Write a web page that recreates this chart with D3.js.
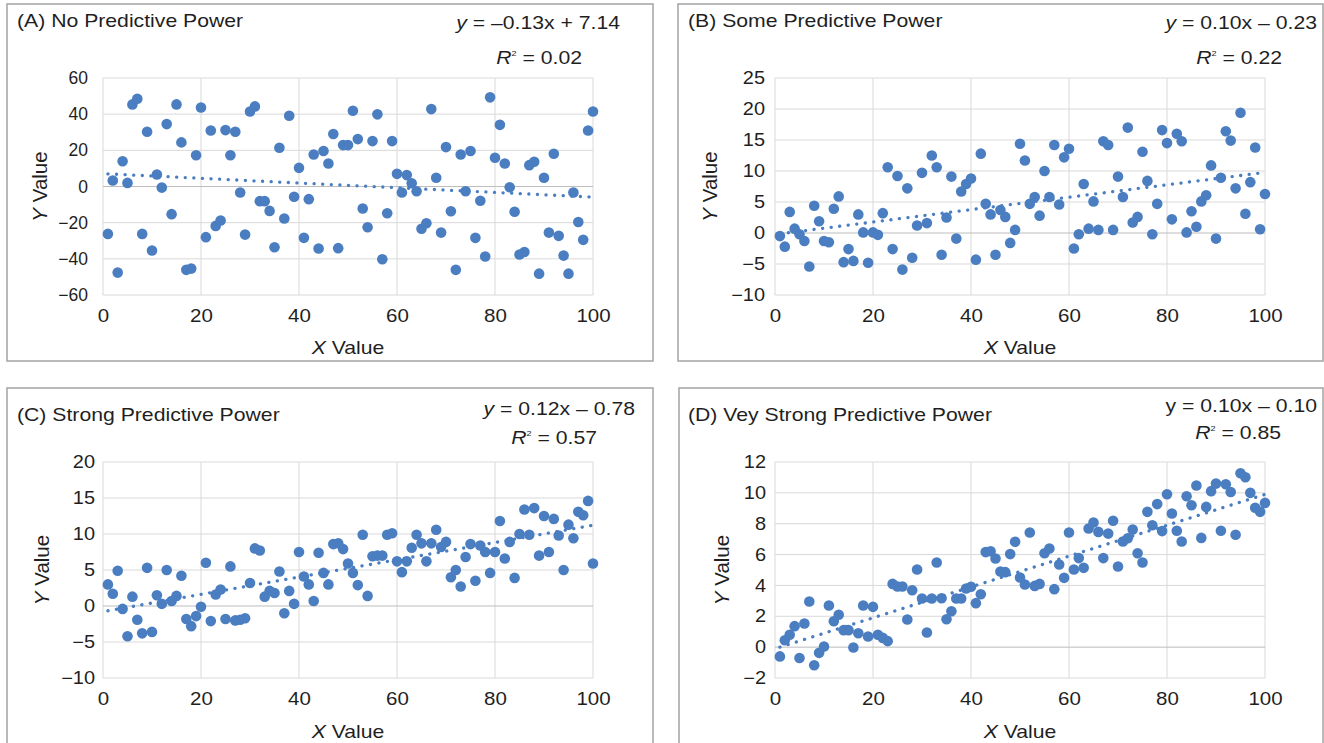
<!DOCTYPE html>
<html>
<head>
<meta charset="utf-8">
<script src="https://cdn.jsdelivr.net/npm/d3@7"></script>
<style>
  body { margin: 0; background: #fff; }
  svg { font-family: "Liberation Sans", Arial, sans-serif; }
</style>
</head>
<body>
<svg id="chart" width="1324" height="743"></svg>
<script>
// x values are the same for all four panels
var xValues = [1,2,3,4,5,6,7,8,9,10,11,12,13,14,15,16,17,18,19,20,21,22,23,24,25,26,27,28,29,30,31,32,33,34,35,36,37,38,39,40,41,42,43,44,45,46,47,48,49,50,51,52,53,54,55,56,57,58,59,60,61,62,63,64,65,66,67,68,69,70,71,72,73,74,75,76,77,78,79,80,81,82,83,84,85,86,87,88,89,90,91,92,93,94,95,96,97,98,99,100];

var yA = [-26.2,3.3,-47.6,14,2,45.4,48.5,-26.2,30.3,-35.4,
  6.6,-0.6,34.5,-15.3,45.4,24.4,-46.1,-45.4,17.3,43.7,
  -28,31,-21.8,-18.8,31.2,17.3,30.3,-3.3,-26.6,41.5,
  44.3,-8.1,-8.1,-13.5,-33.6,21.4,-17.7,39.1,-5.7,10.3,
  -28.4,-7,17.7,-34.3,19.6,12.7,29,-34.1,22.9,22.9,
  41.9,26.2,-12.2,-22.5,25.1,39.9,-40.2,-14.8,25.1,7,
  -3.3,6.3,1.8,-2.6,-23.4,-20.3,42.8,4.8,-25.5,21.8,
  -13.7,-46.1,17.7,-2.6,19.6,-28.4,-7.9,-38.7,49.3,15.9,
  34.1,12.7,-0.4,-14,-37.6,-36.2,11.8,13.7,-48.2,4.8,
  -25.5,18.1,-27.3,-38.2,-48.2,-3.3,-19.6,-29.5,31,41.5];

var yB = [-0.5,-2.2,3.4,0.7,-0.2,-1.3,-5.4,4.4,1.9,-1.3,
  -1.5,3.9,5.9,-4.7,-2.6,-4.5,3,0.1,-4.8,0.1,
  -0.3,3.2,10.6,-2.6,9.2,-5.9,7.2,-4,1.2,9.7,
  1.6,12.5,10.6,-3.5,2.5,9.1,-0.9,6.7,7.9,8.8,
  -4.3,12.8,4.7,3,-3.5,3.7,2.6,-1.6,0.5,14.4,
  11.7,4.7,5.8,2.8,10,5.8,14.2,4.6,12.2,13.6,
  -2.5,-0.2,7.9,0.7,5.1,0.5,14.8,14.2,0.5,9.1,
  5.8,17,1.7,2.6,13.1,8.4,-0.2,4.7,16.6,14.5,
  2.2,16,14.8,0.1,3.5,1,5.1,6.1,10.9,-0.9,
  8.9,16.4,14.9,7.2,19.4,3.1,8.2,13.8,0.6,6.3];

var yC = [3,1.7,4.9,-0.4,-4.2,1.3,-1.9,-3.8,5.3,-3.6,
  1.5,0.3,5,0.7,1.4,4.2,-1.8,-2.8,-1.4,-0.1,
  6,-2.1,1.6,2.3,-1.8,5.5,-2,-1.9,-1.7,3.2,
  8,7.7,1.3,2.1,1.8,4.8,-1,2.1,0.3,7.5,
  4.1,3,0.7,7.4,4.6,3,8.6,8.7,7.9,5.9,
  4.6,2.9,9.9,1.4,6.9,7,7,9.9,10.1,6.2,
  4.7,6.2,8.1,9.9,8.7,6.2,8.7,10.6,8.2,8.9,
  4,5,2.7,6.8,8.6,3.5,8.4,7.5,4.6,7.5,
  11.8,6.6,8.9,3.9,10,13.4,9.9,13.6,7,12.5,
  7.5,12.1,9.8,5,11.3,9.4,13.1,12.6,14.6,5.9];

var yD = [-0.6,0.45,0.8,1.36,-0.7,1.53,2.96,-1.17,-0.37,0.04,
  2.7,1.68,2.1,1.1,1.1,-0.02,0.9,2.7,0.69,2.61,
  0.8,0.6,0.39,4.1,3.93,3.93,1.79,3.69,5.03,3.15,
  0.95,3.15,5.49,3.17,1.81,2.33,3.15,3.15,3.8,3.91,
  2.85,3.43,6.16,6.22,5.75,4.9,4.86,6.03,6.83,4.51,
  4.06,7.43,3.97,4.1,6.09,6.39,3.76,5.36,4.49,7.43,
  5.03,5.77,5.14,7.69,8.08,7.47,5.77,7.36,8.19,5.23,
  6.85,7.06,7.62,6.09,5.49,8.77,7.9,9.27,7.52,9.91,
  8.66,7.54,6.85,9.78,9.2,10.48,7.08,9.09,10.11,10.6,
  7.54,10.56,10.06,7.28,11.27,11.01,10,9.03,8.77,9.35];

var panelTitles = ["(A) No Predictive Power", "(B) Some Predictive Power",
                   "(C) Strong Predictive Power", "(D) Vey Strong Predictive Power"];
var slopes = [-0.13, 0.10, 0.12, 0.10];
var intercepts = [7.14, -0.23, -0.78, -0.10];
var equationText = ["\u20130.13x + 7.14", "0.10x \u2013 0.23", "0.12x \u2013 0.78", "0.10x \u2013 0.10"];
var r2Text = ["0.02", "0.22", "0.57", "0.85"];
var xTicks = [0, 20, 40, 60, 80, 100];
var yTicksA = [-60, -40, -20, 0, 20, 40, 60];
var yTicksB = [-10, -5, 0, 5, 10, 15, 20, 25];
var yTicksC = [-10, -5, 0, 5, 10, 15, 20];
var yTicksD = [-2, 0, 2, 4, 6, 8, 10, 12];

var series = [yA, yB, yC, yD];
var yTickSets = [yTicksA, yTicksB, yTicksC, yTicksD];

// layout for each panel
var layout = [
  {box:[7,4,646,357], plot:[103,78,490,217], titleX:17, titleY:27, eqX:620, eqY:29, r2X:582, r2Y:64, yItalic:true, yPad:15, ySx:1, ySize:17.5, yLab:63},
  {box:[678,4,645,357], plot:[775,78,490,217], titleX:688, titleY:27, eqX:1317, eqY:29, r2X:1282, r2Y:64, yItalic:true, yPad:10, ySx:1.14, ySize:17.5, yLab:65},
  {box:[7,388,646,380], plot:[103,462,490,216], titleX:17, titleY:421, eqX:635, eqY:415, r2X:597, r2Y:444, yItalic:true, yPad:8, ySx:1.14, ySize:17.5, yLab:61},
  {box:[679,388,644,380], plot:[775,462,490,216], titleX:688, titleY:421, eqX:1317, eqY:412, r2X:1281, r2Y:439, yItalic:false, yPad:9, ySx:1.14, ySize:17.5, yLab:53}
];

var SX = 1.14;          // text in the picture is a bit wider than Arial
var blue = "#4a7ec1";
var textColor = "#1f1f1f";

var svg = d3.select("#chart");

function addText(g, x, y, size, anchor) {
  return g.append("text")
    .attr("transform", "translate(" + x + "," + y + ") scale(" + SX + ",1)")
    .attr("text-anchor", anchor)
    .style("font-size", size + "px")
    .attr("fill", textColor);
}

layout.forEach(function(L, i) {
  var g = svg.append("g");
  var px = L.plot[0], py = L.plot[1], pw = L.plot[2], ph = L.plot[3];
  var yTicks = yTickSets[i];

  g.append("rect")
    .attr("x", L.box[0]).attr("y", L.box[1])
    .attr("width", L.box[2]).attr("height", L.box[3])
    .attr("fill", "#fff").attr("stroke", "#a3a3a3").attr("stroke-width", 1.5);

  var x = d3.scaleLinear().domain([0, 100]).range([px, px + pw]);
  var y = d3.scaleLinear().domain([yTicks[0], yTicks[yTicks.length - 1]]).range([py + ph, py]);

  // grid
  g.append("g").selectAll("line").data(xTicks).enter().append("line")
    .attr("x1", function(d){ return x(d); }).attr("x2", function(d){ return x(d); })
    .attr("y1", py).attr("y2", py + ph)
    .attr("stroke", "#d9d9d9").attr("stroke-width", 1);
  g.append("g").selectAll("line").data(yTicks).enter().append("line")
    .attr("x1", px).attr("x2", px + pw)
    .attr("y1", function(d){ return y(d); }).attr("y2", function(d){ return y(d); })
    .attr("stroke", function(d){ return d === 0 ? "#bdbdbd" : "#d9d9d9"; })
    .attr("stroke-width", 1);

  // axes (labels only)
  var xAxis = g.append("g")
    .attr("transform", "translate(0," + (py + ph) + ")")
    .call(d3.axisBottom(x).tickValues(xTicks).tickSize(0).tickPadding(14));
  xAxis.select(".domain").remove();
  xAxis.selectAll("text")
    .attr("transform", "scale(" + SX + ",1)")
    .style("font-size", "18px").style("font-family", "'Liberation Sans', Arial, sans-serif")
    .attr("fill", textColor);

  var yAxis = g.append("g")
    .attr("transform", "translate(" + px + ",0)")
    .call(d3.axisLeft(y).tickValues(yTicks).tickSize(0).tickPadding(L.yPad));
  yAxis.select(".domain").remove();
  yAxis.selectAll("text")
    .attr("x", -L.yPad / L.ySx)
    .attr("transform", "scale(" + L.ySx + ",1)")
    .style("font-size", L.ySize + "px").style("font-family", "'Liberation Sans', Arial, sans-serif")
    .attr("fill", textColor);

  // axis titles
  var xt = addText(g, px + pw / 2, py + ph + (i < 2 ? 59 : 60), 18.6, "middle");
  xt.append("tspan").style("font-style", "italic").text("X");
  xt.append("tspan").text(" Value");

  var yt = g.append("text")
    .attr("transform", "translate(" + (px - L.yLab) + "," + (py + ph / 2) + ") rotate(-90)")
    .attr("text-anchor", "middle").attr("dy", "0.36em")
    .style("font-size", "20.5px").attr("fill", textColor);
  yt.append("tspan").style("font-style", "italic").text("Y");
  yt.append("tspan").text(" Value");

  // points
  g.append("g").selectAll("circle").data(xValues).enter().append("circle")
    .attr("cx", function(d){ return x(d); })
    .attr("cy", function(d, j){ return y(series[i][j]); })
    .attr("r", 5.3)
    .attr("fill", blue);

  // linear trendline
  var xr = d3.extent(xValues);
  var line = d3.line()
    .x(function(d){ return x(d); })
    .y(function(d){ return y(slopes[i] * d + intercepts[i]); });
  g.append("path")
    .attr("d", line(xr))
    .attr("fill", "none").attr("stroke", blue)
    .attr("stroke-width", 3.3).attr("stroke-linecap", "round")
    .attr("stroke-dasharray", "0.1 8.5");

  // titles and equation
  addText(g, L.titleX, L.titleY, 18.6, "start").text(panelTitles[i]);

  var eq = addText(g, L.eqX, L.eqY, 18.6, "end");
  eq.append("tspan").style("font-style", L.yItalic ? "italic" : "normal").text("y");
  eq.append("tspan").text(" = " + equationText[i]);

  var r2 = addText(g, L.r2X, L.r2Y, 18.6, "end");
  r2.append("tspan").style("font-style", "italic").text("R");
  r2.append("tspan").attr("dy", -8).style("font-size", "8px").text("2");
  r2.append("tspan").attr("dy", 8).text(" = " + r2Text[i]);
});
</script>
</body>
</html>
